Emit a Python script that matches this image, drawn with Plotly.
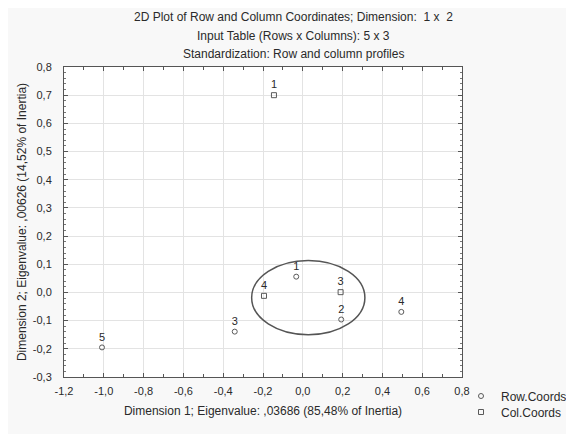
import plotly.graph_objects as go

row_labels = ["1", "2", "3", "4", "5"]
row_x = [-0.033, 0.193, -0.342, 0.495, -1.009]
row_y = [0.056, -0.096, -0.139, -0.069, -0.195]

col_labels = ["1", "3", "4"]
col_x = [-0.145, 0.19, -0.195]
col_y = [0.70, 0.001, -0.012]

x_ticks = [-1.2, -1.0, -0.8, -0.6, -0.4, -0.2, 0.0, 0.2, 0.4, 0.6, 0.8]
x_tick_labels = ["-1,2", "-1,0", "-0,8", "-0,6", "-0,4", "-0,2", "0,0", "0,2", "0,4", "0,6", "0,8"]
y_ticks = [-0.3, -0.2, -0.1, 0.0, 0.1, 0.2, 0.3, 0.4, 0.5, 0.6, 0.7, 0.8]
y_tick_labels = ["-0,3", "-0,2", "-0,1", "0,0", "0,1", "0,2", "0,3", "0,4", "0,5", "0,6", "0,7", "0,8"]

ellipse_x = [-0.257, 0.312]
ellipse_y = [-0.150, 0.113]

FONT = "Liberation Sans, Arial, sans-serif"
MARK = "#5a5a5a"
TXT = "#2a2a2a"

# page body adds an 8px margin; the figure is sized to fit in the window
O = 8
W, H = 574 - O, 434 - O
PL, PR, PT, PB = 64, 462, 67, 377  # plot area in screen pixels

fig = go.Figure()
fig.add_trace(go.Scatter(
    x=row_x, y=row_y, mode="markers+text", text=row_labels,
    textposition="top center", name="Row.Coords", legend="legend",
    marker=dict(symbol="circle-open", size=5, color=MARK, line=dict(width=1)),
    textfont=dict(family=FONT, size=11, color=TXT),
))
fig.add_trace(go.Scatter(
    x=col_x, y=col_y, mode="markers+text", text=col_labels,
    textposition="top center", name="Col.Coords", legend="legend2",
    marker=dict(symbol="square-open", size=5, color=MARK, line=dict(width=1)),
    textfont=dict(family=FONT, size=11, color=TXT),
))

fig.add_shape(type="circle", xref="x", yref="y",
              x0=ellipse_x[0], x1=ellipse_x[1], y0=ellipse_y[0], y1=ellipse_y[1],
              line=dict(color="#555", width=1.5))

titles = [
    "2D Plot of Row and Column Coordinates; Dimension:  1 x  2",
    "Input Table (Rows x Columns): 5 x 3",
    "Standardization: Row and column profiles",
]
for i, t in enumerate(titles):
    ys = 17 + 18.5 * i
    fig.add_annotation(text=t, xref="paper", yref="paper", x=(293 - PL) / (PR - PL),
                       y=1 + (PT - ys) / (PB - PT), showarrow=False,
                       xanchor="center", yanchor="middle",
                       font=dict(family=FONT, size=12, color=TXT))

axis_common = dict(
    showline=True, linecolor="#555", linewidth=1, mirror="allticks",
    ticks="inside", tickcolor="#555", ticklen=4,
    showgrid=True, gridcolor="#e3e3e3", gridwidth=1, zeroline=False,
    tickfont=dict(family=FONT, size=11, color=TXT),
)

fig.update_xaxes(range=[-1.2, 0.8], tickvals=x_ticks, ticktext=x_tick_labels,
                 ticklabelstandoff=4,
                 minor=dict(dtick=0.1, tick0=0, ticks="inside", ticklen=3, tickcolor="#555", showgrid=False),
                 title=dict(text="Dimension 1; Eigenvalue: ,03686 (85,48% of Inertia)",
                            font=dict(family=FONT, size=12, color=TXT), standoff=10),
                 **axis_common)
fig.update_yaxes(range=[-0.3, 0.8], tickvals=y_ticks, ticktext=y_tick_labels,
                 ticklabelstandoff=9,
                 minor=dict(dtick=0.02, tick0=0, ticks="inside", ticklen=2, tickcolor="#777", showgrid=False),
                 title=dict(text="Dimension 2; Eigenvalue: ,00626 (14,52% of Inertia)",
                            font=dict(family=FONT, size=12, color=TXT), standoff=3),
                 **axis_common)

leg_common = dict(xref="container", yref="container", xanchor="left", yanchor="middle",
                  bgcolor="rgba(0,0,0,0)", font=dict(family=FONT, size=12, color=TXT),
                  itemsizing="trace")

fig.update_layout(
    width=W, height=H,
    margin=dict(l=PL - O, r=W - (PR - O), t=PT - O, b=H - (PB - O), autoexpand=False),
    paper_bgcolor="#f8f8f8", plot_bgcolor="white",
    font=dict(family=FONT, size=11, color=TXT),
    showlegend=True,
    legend=dict(x=(461 - O) / W, y=1 - (396 - O) / H, **leg_common),
    legend2=dict(x=(461 - O) / W, y=1 - (412 - O) / H, **leg_common),
)

fig.write_html("out.html")
